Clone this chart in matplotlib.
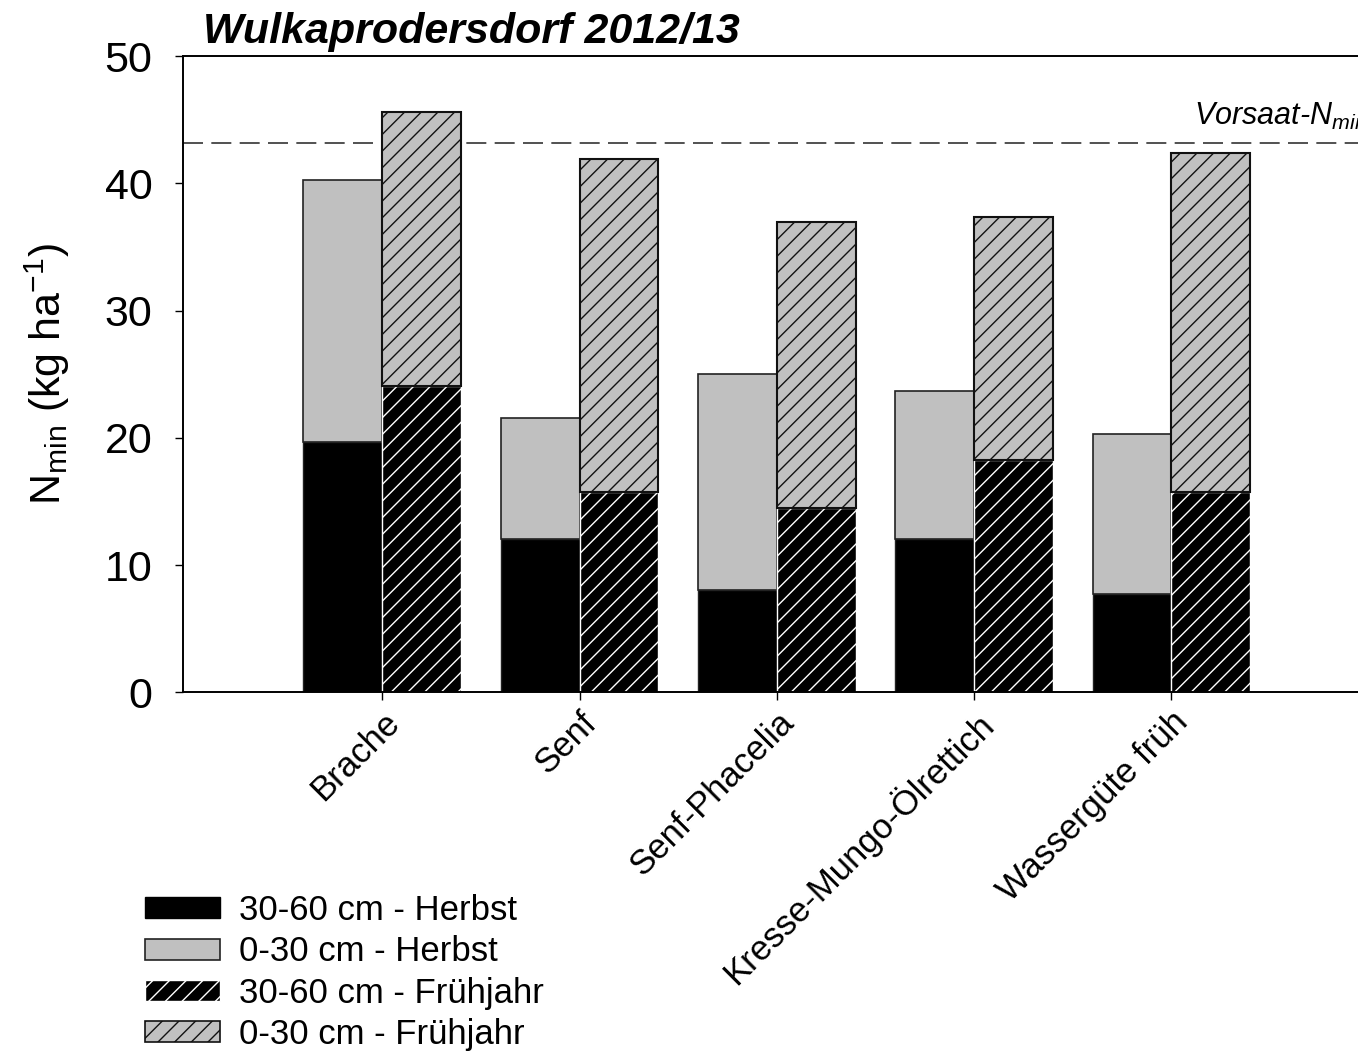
import matplotlib
matplotlib.use("Agg")
import matplotlib.pyplot as plt
import matplotlib.transforms as mtransforms
from matplotlib.patches import Patch
import numpy as np

plt.rcParams['font.family'] = ['Liberation Sans', 'DejaVu Sans']
plt.rcParams['mathtext.fontset'] = 'custom'
plt.rcParams['mathtext.rm'] = 'Liberation Sans'
plt.rcParams['mathtext.it'] = 'Liberation Sans:italic'
plt.rcParams['mathtext.default'] = 'regular'
plt.rcParams['hatch.linewidth'] = 1.0

# Data
categories = ["Brache", "Senf", "Senf-Phacelia", "Kresse-Mungo-Ölrettich", "Wassergüte früh"]
herbst_30_60 = [19.7, 12.05, 8.05, 12.05, 7.75]
herbst_0_30 = [20.6, 9.55, 16.95, 11.65, 12.55]
fruehjahr_30_60 = [24.1, 15.75, 14.45, 18.25, 15.75]
fruehjahr_0_30 = [21.5, 26.15, 22.55, 19.15, 26.65]
vorsaat_nmin = 43.2
legend_labels = ["30-60 cm - Herbst", "0-30 cm - Herbst", "30-60 cm - Frühjahr", "0-30 cm - Frühjahr"]

W, H = 1358, 1055
fig = plt.figure(figsize=(W / 100, H / 100), dpi=100)

x = np.arange(len(categories))
xmin, xmax = -1.01, 5.25
unit_px = 197.3
ax_left_px, ax_top_px, ax_bot_px = 183, 56.3, 692.3
ax_w = (xmax - xmin) * unit_px / W
ax = fig.add_axes([ax_left_px / W, 1 - ax_bot_px / H, ax_w, (ax_bot_px - ax_top_px) / H])

bw = 0.4
gray = '#c0c0c0'
ax.bar(x - bw / 2, herbst_30_60, bw, color='black', edgecolor='#222222', linewidth=1.0, zorder=2)
ax.bar(x - bw / 2, herbst_0_30, bw, bottom=herbst_30_60, color=gray, edgecolor='#222222', linewidth=1.2, zorder=2)
ax.bar(x + bw / 2, fruehjahr_30_60, bw, color='black', edgecolor='white', hatch='//', linewidth=1.0, zorder=2)
ax.bar(x + bw / 2, fruehjahr_0_30, bw, bottom=fruehjahr_30_60, color=gray, edgecolor='#111111', hatch='//', linewidth=1.5, zorder=3)

ax.axhline(vorsaat_nmin, color='#333333', linewidth=1.2, dashes=(12, 5), zorder=1)
ax.text(4.115, 44.6, r'Vorsaat-N$_{min}$', fontsize=22, style='italic', ha='left', va='baseline')

ax.set_xlim(xmin, xmax)
ax.set_ylim(0, 50)
ax.set_yticks([0, 10, 20, 30, 40, 50])
ax.set_xticks(x)
ax.set_xticklabels(categories, rotation=45, ha='right', va='top', rotation_mode='anchor', fontsize=25)
for lab in ax.get_xticklabels():
    lab.set_transform(lab.get_transform() + mtransforms.ScaledTranslation(8 / 100, 0, fig.dpi_scale_trans))
ax.tick_params(axis='y', labelsize=31, direction='out', length=6, width=1.0, pad=16)
ax.tick_params(axis='x', direction='out', length=6, width=1.0, pad=3.5)
for s in ['left', 'bottom', 'top']:
    ax.spines[s].set_linewidth(1.4)
ax.spines['right'].set_visible(False)

ax.set_ylabel(r'N$_{min}$ (kg ha$^{-1}$)', fontsize=31)
ax.yaxis.set_label_coords(-0.0899, 0.5)

fig.text(203 / W, 1 - 42.7 / H, 'Wulkaprodersdorf 2012/13', fontsize=31, fontweight='bold',
         style='italic', ha='left', va='baseline')

handles = [
    Patch(facecolor='black', edgecolor='black', linewidth=1.0),
    Patch(facecolor=gray, edgecolor='#222222', linewidth=1.2),
    Patch(facecolor='black', edgecolor='white', hatch='//', linewidth=1.0),
    Patch(facecolor=gray, edgecolor='#111111', hatch='//', linewidth=1.2),
]
fig.legend(handles, legend_labels, loc='upper left', bbox_to_anchor=(145 / W, 1 - 894 / H),
           frameon=False, fontsize=25, handlelength=2.15, handleheight=0.55, handletextpad=0.55,
           labelspacing=0.24, borderpad=0, borderaxespad=0)

fig.savefig('out.png', dpi=100)
